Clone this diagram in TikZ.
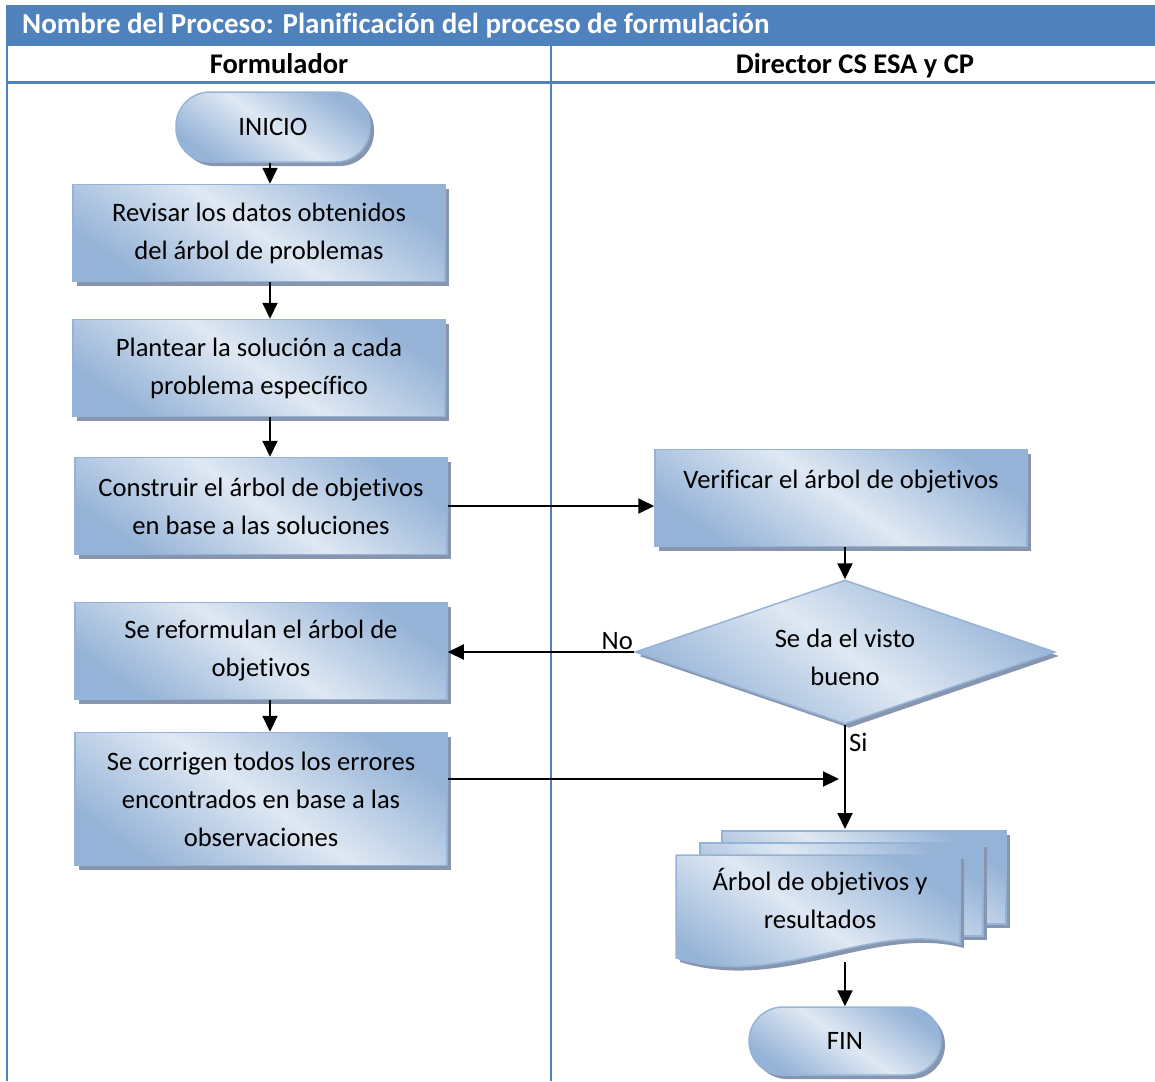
\documentclass[tikz,border=0pt]{standalone}
\usepackage{fontspec}
\setmainfont[Ligatures=NoCommon]{Carlito}
\usetikzlibrary{arrows.meta,shapes.geometric,shadows,calc}

\definecolor{hdrblue}{HTML}{4F81BD}
\definecolor{boxedge}{HTML}{95B3D7}
\definecolor{boxdark}{HTML}{95B3D7}
\definecolor{boxlight}{HTML}{DFE8F3}
\definecolor{boxshadow}{HTML}{8796AE}

\newcommand\flowfont{\fontsize{26.6}{38}\selectfont}
\newcommand\ttlfont{\fontsize{29}{32}\selectfont\bfseries}
\newcommand\hdrfont{\fontsize{28.5}{32}\selectfont\bfseries}

\tikzset{
  shade3d/.style={top color=boxdark, bottom color=boxdark, middle color=boxlight, shading angle=-35},
  boxshade/.style={drop shadow={shadow xshift=4pt, shadow yshift=-4pt, fill=boxshadow, opacity=1}},
  proc/.style={rectangle, draw=boxedge, line width=1.5pt, shade3d, boxshade,
    minimum width=372pt, minimum height=97pt, align=center, font=\flowfont, inner sep=0pt},
  term/.style={rectangle, rounded corners=34pt, draw=boxedge, line width=1.5pt, shade3d, boxshade,
    minimum width=194pt, minimum height=70pt, font=\flowfont},
  decision/.style={diamond, draw=boxedge, line width=1.5pt, shade3d, boxshade,
    minimum width=420pt, minimum height=144pt, inner sep=0pt},
  sheet/.style={draw=boxedge, line width=1.5pt, shade3d, boxshade},
  flow/.style={line width=2pt, -{Triangle[length=16pt,width=15pt]}},
  lane/.style={draw=hdrblue},
  lbl/.style={font=\flowfont, inner sep=0pt},
  hdr/.style={font=\hdrfont, anchor=base, inner sep=0pt}
}

\begin{document}
\begin{tikzpicture}[x=1pt,y=-1pt]
\useasboundingbox (0,0) rectangle (1155,1081);

% swimlane table
\fill[hdrblue] (6,5) rectangle (1155,46);
\node[anchor=west, text=white, font=\ttlfont, inner sep=0pt] (title) at (22,26)
  {Nombre del Proceso: Planificación del proceso de formulación};
\draw[lane, line width=2.5pt] (7,45) -- (7,1081);
\draw[lane, line width=2pt] (551,46) -- (551,1081);
\draw[lane, line width=3pt] (6,82) -- (1155,82);
\node[hdr] (lane1) at (279,73) {Formulador};
\node[hdr] (lane2) at (855,73) {Director CS ESA y CP};

% Formulador lane
\coordinate (spine) at (270,0);
\node[term] (inicio) at (273,127) {INICIO};
\node[proc] (b1) at (259,233) {Revisar los datos obtenidos\\del árbol de problemas};
\node[proc] (b2) at (259,368) {Plantear la solución a cada\\problema específico};
\node[proc] (b3) at (261,506) {Construir el árbol de objetivos\\en base a las soluciones};
\node[proc] (b4) at (261,651) {Se reformulan el árbol de\\objetivos};
\node[proc, minimum height=133pt] (b5) at (261,799)
  {Se corrigen todos los errores\\encontrados en base a las\\observaciones};

% Director lane
\node[proc] (verify) at (841,498) {Verificar el árbol de objetivos\\\mbox{}};
\node[decision] (dec) at (845,652) {};
\node[lbl, align=center] (dectext) at (845,657) {Se da el visto\\bueno};

% stacked documents
\path[sheet] (722,831) rectangle (1006,924);
\path[sheet] (700,843) rectangle (983,936);
\path[sheet] (676,855) -- (960,855) -- (960,944)
  .. controls (870,920) and (780,990) .. (676,958) -- cycle;
\node[lbl, align=center] (doc) at (820,898) {Árbol de objetivos y\\resultados};
\coordinate (doctop) at (845,829);
\coordinate (docbot) at (845,962);

\node[term, minimum width=192pt, minimum height=68pt] (fin) at (845,1041) {FIN};

% connectors
\coordinate (join) at (839,779);
\draw[flow] (inicio.south -| spine) -- (b1.north -| spine);
\draw[flow] (b1.south -| spine) -- (b2.north -| spine);
\draw[flow] (b2.south -| spine) -- (b3.north -| spine);
\draw[flow] (b3.east) -- (b3.east -| verify.west);
\draw[flow] (verify.south -| dec.north) -- (dec.north);
\draw[flow] (dec.west) -- (dec.west -| b4.east);
\node[lbl, anchor=south east] (no) at (633,650) {No};
\draw[flow] (b4.south -| spine) -- (b5.north -| spine);
\draw[flow] (b5.east |- join) -- (join);
\draw[flow] (dec.south) -- (doctop);
\node[lbl, anchor=west] (si) at (849,742) {Si};
\draw[flow] (docbot) -- (fin.north);
\end{tikzpicture}
\end{document}
